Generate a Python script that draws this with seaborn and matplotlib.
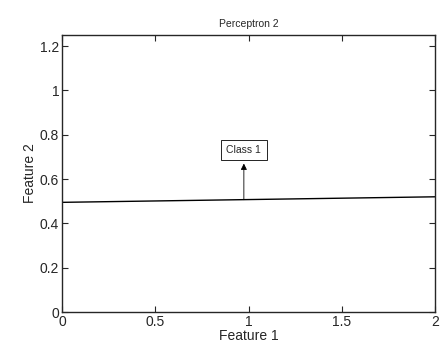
import seaborn as sns
import pandas as pd
from matplotlib import pyplot as plt

# decision boundary of perceptron 2
feature1 = [0.0, 2.0]
feature2 = [0.495, 0.52]
arrow_x = 0.975
arrow_y0 = 0.507
arrow_y1 = 0.67
label_y = 0.73
x_ticks = [0, 0.5, 1, 1.5, 2]
y_ticks = [0, 0.2, 0.4, 0.6, 0.8, 1, 1.2]


def draw():
    sns.set_style('ticks')
    plt.rcParams['font.family'] = ['Liberation Sans', 'DejaVu Sans']
    df = pd.DataFrame({'Feature 1': feature1, 'Feature 2': feature2})

    fig = plt.figure(figsize=(4.43, 3.46), dpi=100)
    ax = fig.add_axes([0.14, 0.098, 0.842, 0.801])
    sns.lineplot(x='Feature 1', y='Feature 2', data=df, color='black', lw=1.0, ax=ax)

    ax.annotate('', xy=(arrow_x, arrow_y1), xytext=(arrow_x, arrow_y0),
                arrowprops=dict(arrowstyle='-|>', color='black', lw=0.6,
                                mutation_scale=9, shrinkA=0, shrinkB=0))
    ax.text(arrow_x, label_y, 'Class 1', ha='center', va='center', fontsize=7.5,
            bbox=dict(boxstyle='square,pad=0.5', fc='white', ec='black', lw=0.6))

    ax.set_xlim(0, 2)
    ax.set_ylim(0, 1.25)
    ax.set_xticks(x_ticks)
    ax.set_xticklabels(['0', '0.5', '1', '1.5', '2'])
    ax.set_yticks(y_ticks)
    ax.set_yticklabels(['0', '0.2', '0.4', '0.6', '0.8', '1', '1.2'])
    ax.tick_params(direction='in', top=True, right=True, length=4, width=0.8,
                   labelsize=10, pad=2)
    for s in ax.spines.values():
        s.set_linewidth(1.0)
        s.set_visible(True)
    ax.set_xlabel('Feature 1', fontsize=10, labelpad=0)
    ax.set_ylabel('Feature 2', fontsize=10, labelpad=2)
    ax.set_title('Perceptron 2', fontsize=7.5, pad=6)
    plt.savefig('out.png', dpi=100)


def main():
    draw()


if __name__ == '__main__':
    main()
